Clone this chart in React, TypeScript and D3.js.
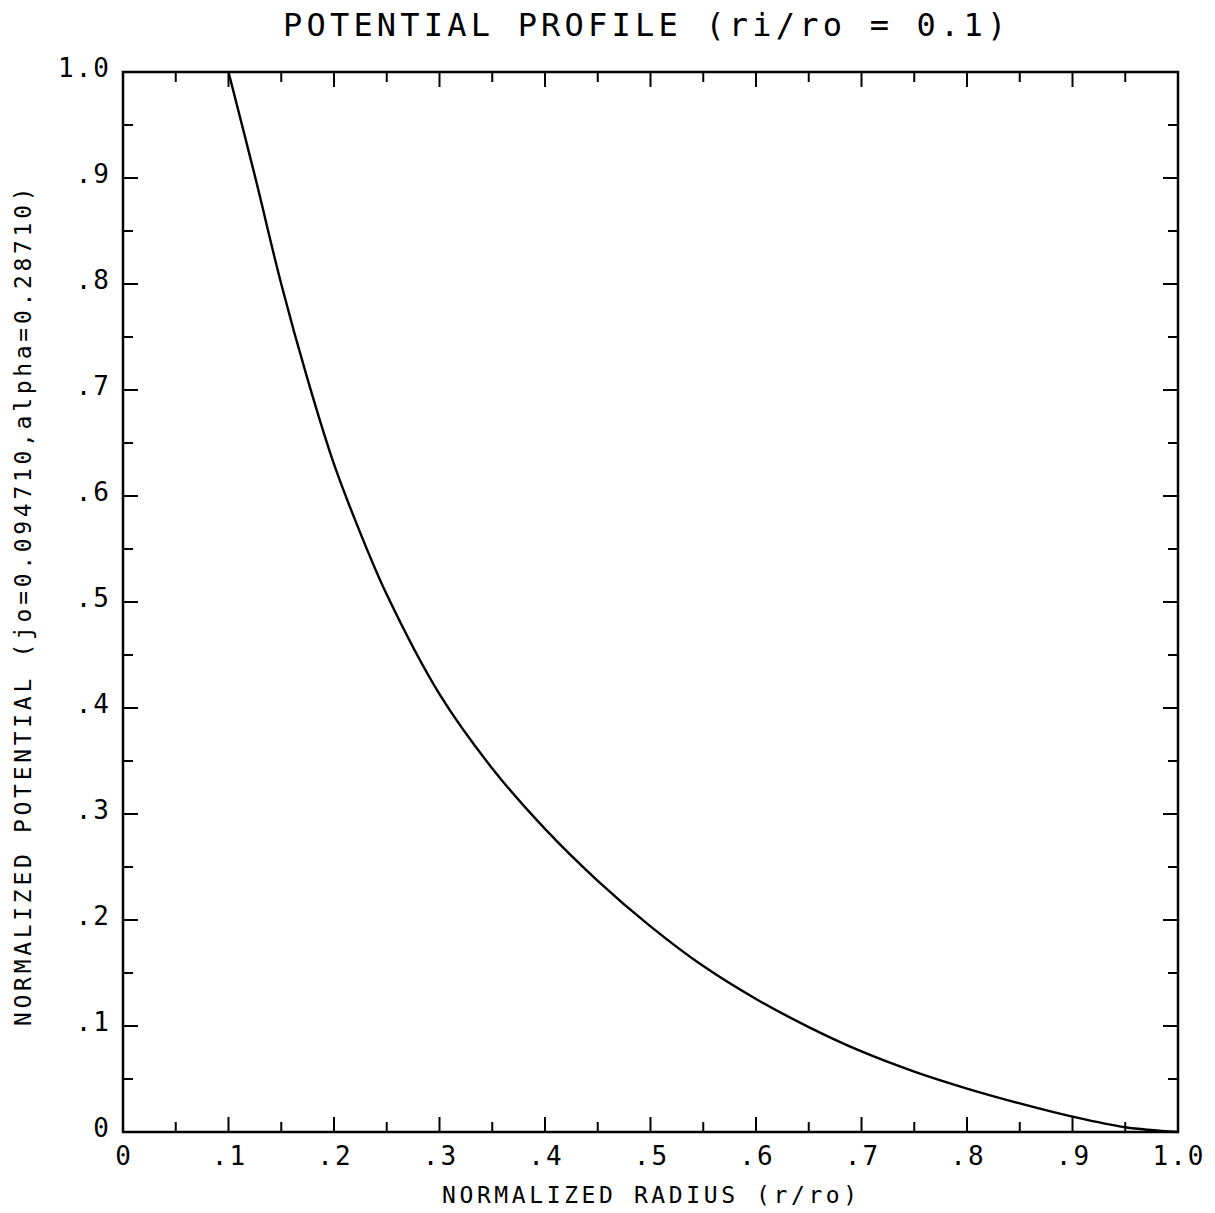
import React, { useEffect, useRef } from 'react';
import * as d3 from 'd3';

// curve
const radius = [0.1, 0.125, 0.15, 0.175, 0.2, 0.225, 0.25, 0.3, 0.35, 0.4, 0.45, 0.5, 0.55, 0.6, 0.65, 0.7, 0.75, 0.8, 0.85, 0.9, 0.95, 1.0];
const potential = [1.0, 0.902, 0.80, 0.71, 0.63, 0.565, 0.507, 0.413, 0.343, 0.286, 0.237, 0.194, 0.1565, 0.1255, 0.099, 0.076, 0.057, 0.041, 0.027, 0.0145, 0.0045, 0];

const majorTicks = [0, 0.1, 0.2, 0.3, 0.4, 0.5, 0.6, 0.7, 0.8, 0.9, 1.0];
const minorTicks = [0.05, 0.15, 0.25, 0.35, 0.45, 0.55, 0.65, 0.75, 0.85, 0.95];
const tickLabels = ['0', '.1', '.2', '.3', '.4', '.5', '.6', '.7', '.8', '.9', '1.0'];

const title = 'POTENTIAL PROFILE (ri/ro = 0.1)';
const xTitle = 'NORMALIZED RADIUS (r/ro)';
const yTitle = 'NORMALIZED POTENTIAL (jo=0.094710,alpha=0.28710)';

const W = 1215, H = 1213;
const left = 123, right = 1178, top = 72, bottom = 1132;
const FONT = '"DejaVu Sans Mono", "Liberation Mono", monospace';

export default function App() {
  const ref = useRef<SVGSVGElement>(null);

  useEffect(() => {
    const svg = d3.select(ref.current);
    svg.selectAll('*').remove();

    const x = d3.scaleLinear().domain([0, 1]).range([left, right]);
    const y = d3.scaleLinear().domain([0, 1]).range([bottom, top]);

    const g = svg.append('g');

    // inward ticks on every side
    const major = 15, minor = 10;
    const tk = g.append('g').attr('stroke', '#000').attr('stroke-width', 2);
    majorTicks.concat(minorTicks).forEach(v => {
      const len = majorTicks.includes(v) ? major : minor;
      tk.append('line').attr('x1', x(v)).attr('x2', x(v)).attr('y1', bottom).attr('y2', bottom - len);
      tk.append('line').attr('x1', x(v)).attr('x2', x(v)).attr('y1', top).attr('y2', top + len);
      tk.append('line').attr('y1', y(v)).attr('y2', y(v)).attr('x1', left).attr('x2', left + len);
      tk.append('line').attr('y1', y(v)).attr('y2', y(v)).attr('x1', right).attr('x2', right - len);
    });

    g.append('rect')
      .attr('x', left).attr('y', top)
      .attr('width', right - left).attr('height', bottom - top)
      .attr('fill', 'none').attr('stroke', '#000').attr('stroke-width', 2.5);

    const line = d3.line<number>()
      .x((d, i) => x(radius[i]))
      .y(d => y(d))
      .curve(d3.curveCatmullRom.alpha(0.5));

    g.append('path')
      .datum(potential)
      .attr('d', line)
      .attr('fill', 'none')
      .attr('stroke', '#000')
      .attr('stroke-width', 2.4);

    // tick labels
    const ls = 2;
    const txt = g.append('g')
      .attr('font-family', FONT)
      .attr('font-size', 26)
      .attr('letter-spacing', ls)
      .attr('fill', '#000');

    majorTicks.forEach((v, i) => {
      txt.append('text')
        .attr('x', x(v) + ls / 2)
        .attr('y', 1165)
        .attr('text-anchor', 'middle')
        .text(tickLabels[i]);
      txt.append('text')
        .attr('x', 109 + ls)
        .attr('y', y(v) + 5)
        .attr('text-anchor', 'end')
        .text(tickLabels[i]);
    });

    svg.append('text')
      .attr('x', 283)
      .attr('y', 36)
      .attr('font-family', FONT)
      .attr('font-size', 32)
      .attr('letter-spacing', 4.2)
      .text(title);

    svg.append('text')
      .attr('x', 442)
      .attr('y', 1203)
      .attr('font-family', FONT)
      .attr('font-size', 23)
      .attr('letter-spacing', 3.6)
      .text(xTitle);

    svg.append('text')
      .attr('transform', 'translate(31,1026) rotate(-90)')
      .attr('font-family', FONT)
      .attr('font-size', 23)
      .attr('letter-spacing', 3.7)
      .text(yTitle);
  }, []);

  return (
    <svg ref={ref} width={W} height={H}
      style={{ position: 'absolute', left: 0, top: 0, background: '#fff' }} />
  );
}
